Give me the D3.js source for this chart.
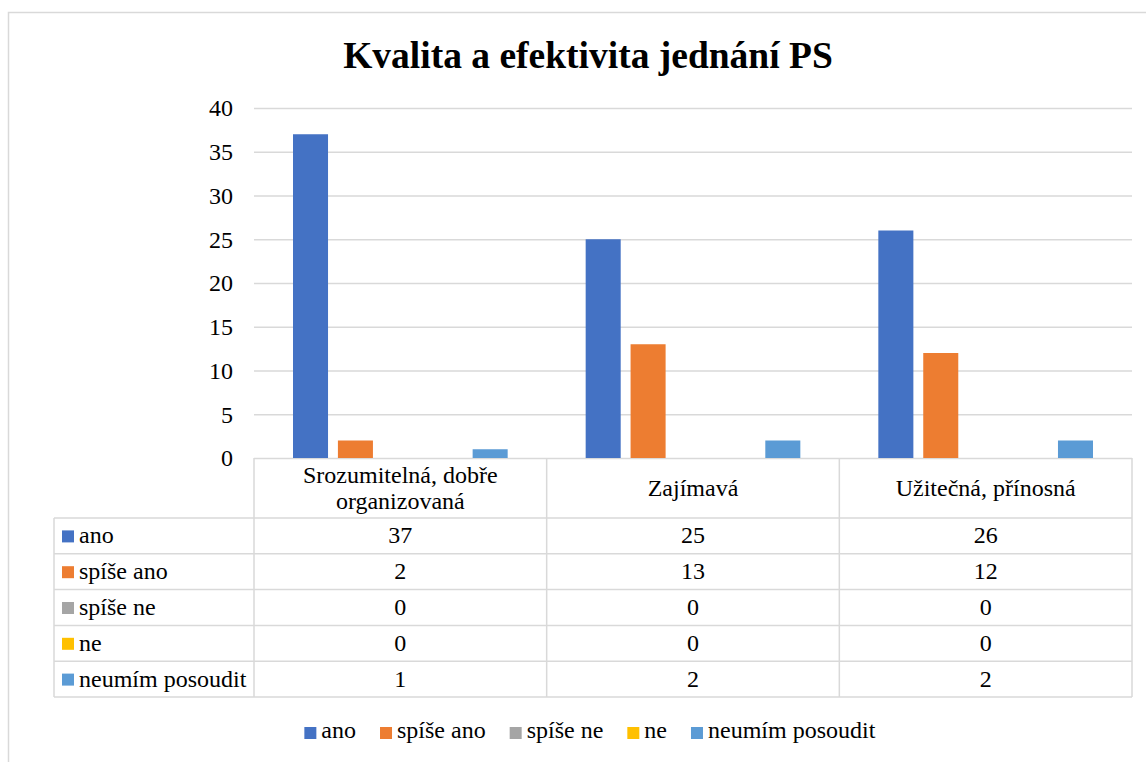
<!DOCTYPE html>
<html>
<head>
<meta charset="utf-8">
<script src="https://cdn.jsdelivr.net/npm/d3@7"></script>
<style>
	body { margin: 0; background: #ffffff; }
	svg text { font-family: "Liberation Serif", "Times New Roman", serif; fill: #000000; }
</style>
</head>
<body>
<svg id="chart" width="1146" height="762"></svg>
<script>

const title = 'Kvalita a efektivita jednání PS';
const categories = ['Srozumitelná, dobře organizovaná', 'Zajímavá', 'Užitečná, přínosná'];
const series = ['ano', 'spíše ano', 'spíše ne', 'ne', 'neumím posoudit'];
const colors = ['#4472C4', '#ED7D31', '#A5A5A5', '#FFC000', '#5B9BD5'];
// values[series][category]
const values = [
	[37, 25, 26],
	[2, 13, 12],
	[0, 0, 0],
	[0, 0, 0],
	[1, 2, 2]
];
const y_ticks = [0, 5, 10, 15, 20, 25, 30, 35, 40];

const svg = d3.select('#chart');
const grid_color = '#d9d9d9';
const font_size = 24;

const plot_left = 254, plot_right = 1132, plot_top = 108, plot_bottom = 458;
const table_left = 54, header_bottom = 518, row_height = 35.8;

// outer chart border
svg.append('rect')
	.attr('x', 8.5).attr('y', 12.5)
	.attr('width', 1200).attr('height', 800)
	.attr('fill', 'none')
	.attr('stroke', grid_color)
	.attr('stroke-width', 1.5);

svg.append('text')
	.attr('x', 588).attr('y', 68)
	.attr('text-anchor', 'middle')
	.style('font-size', '37.5px')
	.style('font-weight', 'bold')
	.text(title);

const x = d3.scaleBand()
	.domain(categories)
	.range([plot_left, plot_right])
	.paddingInner(0).paddingOuter(0);

const x_inner = d3.scaleBand()
	.domain(series)
	.range([39, x.bandwidth() - 39])
	.paddingInner(0.22).paddingOuter(0);

const y = d3.scaleLinear()
	.domain([0, 40])
	.range([plot_bottom, plot_top]);

// gridlines + tick labels
const y_axis = svg.append('g')
	.attr('class', 'y-axis')
	.attr('transform', `translate(${plot_left},0)`)
	.call(d3.axisLeft(y).tickValues(y_ticks).tickSize(-(plot_right - plot_left)).tickPadding(21));

y_axis.select('.domain').remove();
y_axis.selectAll('.tick line')
	.attr('stroke', grid_color)
	.attr('stroke-width', 1.5);
y_axis.selectAll('.tick text')
	.attr('dy', '0.33em')
	.style('font-size', font_size + 'px')
	.style('font-family', '"Liberation Serif", serif');

// bars
const bar_data = [];
series.forEach((s, si) => {
	categories.forEach((c, ci) => {
		bar_data.push({ s: s, c: c, v: values[si][ci], color: colors[si] });
	});
});

svg.append('g').selectAll('rect')
	.data(bar_data.filter(d => d.v > 0))
	.enter()
	.append('rect')
		.attr('x', d => x(d.c) + x_inner(d.s))
		.attr('y', d => y(d.v))
		.attr('width', x_inner.bandwidth())
		.attr('height', d => y(0) - y(d.v))
		.attr('fill', d => d.color);

// data table
const table = svg.append('g').attr('class', 'data-table');
const table_bottom = header_bottom + row_height * series.length;

// vertical lines in header row and body
const col_edges = categories.map(c => x(c)).concat([plot_right]);
col_edges.forEach(cx => {
	table.append('line')
		.attr('x1', cx).attr('x2', cx)
		.attr('y1', plot_bottom).attr('y2', table_bottom)
		.attr('stroke', grid_color).attr('stroke-width', 1.5);
});
table.append('line')
	.attr('x1', table_left).attr('x2', table_left)
	.attr('y1', header_bottom).attr('y2', table_bottom)
	.attr('stroke', grid_color).attr('stroke-width', 1.5);

d3.range(series.length + 1).forEach(i => {
	const ly = header_bottom + i * row_height;
	table.append('line')
		.attr('x1', table_left).attr('x2', plot_right)
		.attr('y1', ly).attr('y2', ly)
		.attr('stroke', grid_color).attr('stroke-width', 1.5);
});

// header labels, wrapped to the column width
const wrap_words = function(text, max_width){
	const words = text.split(' ');
	const probe = svg.append('text').style('font-size', font_size + 'px');
	const lines = [];
	let line = '';
	words.forEach(w => {
		const test = line ? line + ' ' + w : w;
		probe.text(test);
		if(probe.node().getComputedTextLength() > max_width && line){
			lines.push(line);
			line = w;
		} else {
			line = test;
		}
	});
	lines.push(line);
	probe.remove();
	return lines;
};

const line_gap = 26;
categories.forEach(c => {
	const lines = wrap_words(c, x.bandwidth() - 20);
	const cy = (plot_bottom + header_bottom) / 2;
	const t = table.append('text')
		.attr('text-anchor', 'middle')
		.style('font-size', font_size + 'px');
	lines.forEach((l, li) => {
		t.append('tspan')
			.attr('x', x(c) + x.bandwidth() / 2)
			.attr('y', cy + (li - (lines.length - 1) / 2) * line_gap + 8)
			.text(l);
	});
});

// row keys + values
series.forEach((s, si) => {
	const cy = header_bottom + (si + 0.5) * row_height;
	table.append('rect')
		.attr('x', 62).attr('y', cy - 5.5)
		.attr('width', 12).attr('height', 12)
		.attr('fill', colors[si]);
	table.append('text')
		.attr('x', 79).attr('y', cy + 7.5)
		.style('font-size', font_size + 'px')
		.text(s);
	categories.forEach((c, ci) => {
		table.append('text')
			.attr('x', x(c) + x.bandwidth() / 2)
			.attr('y', cy + 7.5)
			.attr('text-anchor', 'middle')
			.style('font-size', font_size + 'px')
			.text(values[si][ci]);
	});
});

// legend
const legend = svg.append('g').attr('class', 'legend');
const items = legend.selectAll('g')
	.data(series)
	.enter()
	.append('g');

items.append('rect')
	.attr('width', 12).attr('height', 12)
	.attr('y', -11)
	.attr('fill', (d, i) => colors[i]);
items.append('text')
	.attr('x', 17)
	.style('font-size', font_size + 'px')
	.text(d => d);

var widths = [];
items.each(function(){ widths.push(this.getBBox().width) });
const item_gap = 24;
const total = widths.reduce((a, b) => a + b, 0) + item_gap * (widths.length - 1);
let lx = 590 - total / 2;
items.attr('transform', function(d, i){
	const tf = `translate(${lx},738)`;
	lx += widths[i] + item_gap;
	return tf;
});

</script>
</body>
</html>
